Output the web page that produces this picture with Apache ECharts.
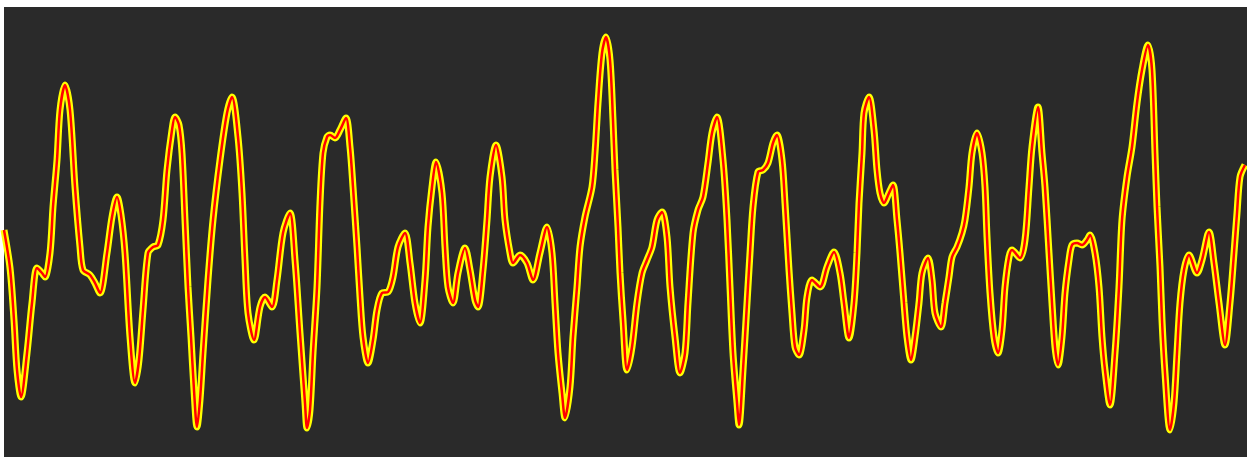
<!DOCTYPE html>
<html>
<head>
<meta charset="utf-8">
<script src="https://cdn.jsdelivr.net/npm/echarts@6/dist/echarts.min.js"></script>
<style>
html,body{margin:0;padding:0;background:#ffffff;}
#chart{width:1247px;height:459px;}
</style>
</head>
<body>
<div id="chart"></div>
<script>
// time (samples) and amplitude readings of the signal
const times = [0,6,10,13,17,23,28,33,38,41,46,49,53,56,61,66,71,76,79,86,91,96,103,108,113,117,121,126,131,135,139,144,149,154,159,163,168,171,175,178,181,184,187,190,193,196,199,204,209,216,223,228,234,238,241,244,250,256,261,268,273,279,286,291,296,301,303,306,309,313,316,319,323,326,331,336,342,346,349,353,356,359,364,369,373,378,384,389,394,401,406,411,416,421,424,428,432,438,441,444,449,454,461,466,471,474,479,483,486,492,498,501,506,509,516,523,529,536,543,548,551,554,558,561,566,569,573,576,581,588,591,594,598,602,606,609,611,614,616,619,623,628,633,638,643,648,653,658,663,666,671,676,681,684,689,694,699,704,708,713,719,723,726,729,733,735,739,743,746,749,754,759,764,769,773,778,781,785,788,791,795,800,803,808,816,823,830,836,840,845,850,853,855,858,860,865,870,873,876,880,885,889,893,896,900,903,907,911,915,918,924,928,931,937,941,945,948,953,958,961,965,968,973,978,981,983,986,990,994,998,1001,1005,1008,1016,1021,1025,1028,1034,1038,1041,1045,1048,1051,1054,1058,1061,1065,1068,1073,1078,1083,1086,1091,1095,1098,1101,1106,1111,1115,1118,1123,1128,1133,1138,1144,1148,1151,1153,1156,1158,1161,1166,1170,1173,1176,1180,1185,1193,1198,1205,1210,1215,1221,1226,1230,1233,1236,1241];
const amplitude = [2,-36,-88,-138,-165,-121,-71,-36,-41,-45,-21,25,72,122,147,122,45,-15,-38,-43,-51,-61,-21,15,35,17,-21,-105,-151,-128,-78,-21,-15,-13,12,62,102,115,107,79,12,-55,-105,-158,-195,-168,-121,-48,12,72,119,135,95,39,-28,-81,-108,-75,-65,-75,-48,-1,19,-28,-101,-171,-196,-178,-121,-55,29,79,95,97,94,102,114,85,45,-15,-65,-105,-131,-108,-78,-61,-60,-45,-15,-1,-31,-71,-91,-48,5,45,70,39,-15,-55,-71,-41,-16,-38,-68,-75,-38,12,55,87,55,12,-21,-31,-23,-31,-48,-21,5,-21,-71,-121,-161,-186,-155,-105,-55,-15,15,45,79,129,179,195,172,112,62,5,-41,-88,-138,-115,-71,-41,-28,-15,12,20,-5,-55,-105,-141,-121,-71,-1,22,35,69,99,115,72,12,-55,-121,-171,-193,-138,-71,-21,25,60,62,69,89,97,72,29,-38,-81,-115,-123,-98,-65,-48,-55,-35,-20,-41,-71,-106,-71,-21,29,79,119,135,102,62,39,29,39,47,12,-21,-71,-105,-128,-105,-71,-41,-26,-48,-81,-95,-71,-45,-25,-15,-1,12,45,79,99,79,45,-5,-61,-105,-121,-98,-55,-25,-18,-26,-8,45,85,125,79,45,-21,-71,-115,-133,-105,-61,-28,-13,-11,-13,-8,-3,-21,-55,-105,-138,-173,-121,-55,12,55,85,129,162,187,162,79,25,-35,-88,-141,-198,-171,-121,-71,-38,-23,-41,-28,0,-31,-71,-113,-71,-21,19,55,67];

const seriesData = times.map((t, i) => [t, amplitude[i]]);

const chart = echarts.init(document.getElementById('chart'));
chart.setOption({
  animation: false,
  backgroundColor: '#ffffff',
  grid: {
    left: 4, right: 0, top: 7, bottom: 2,
    show: true, backgroundColor: '#2a2a2a', borderWidth: 0
  },
  xAxis: { type: 'value', min: 0, max: 1243, show: false },
  yAxis: { type: 'value', min: -225, max: 225, show: false },
  series: [
    {
      type: 'line', data: seriesData, smooth: 0.3, symbol: 'none', clip: true,
      lineStyle: { color: '#ffff00', width: 7 }
    },
    {
      type: 'line', data: seriesData, smooth: 0.3, symbol: 'none', clip: true,
      lineStyle: { color: '#ff0000', width: 2.5 }
    }
  ]
});
</script>
</body>
</html>
